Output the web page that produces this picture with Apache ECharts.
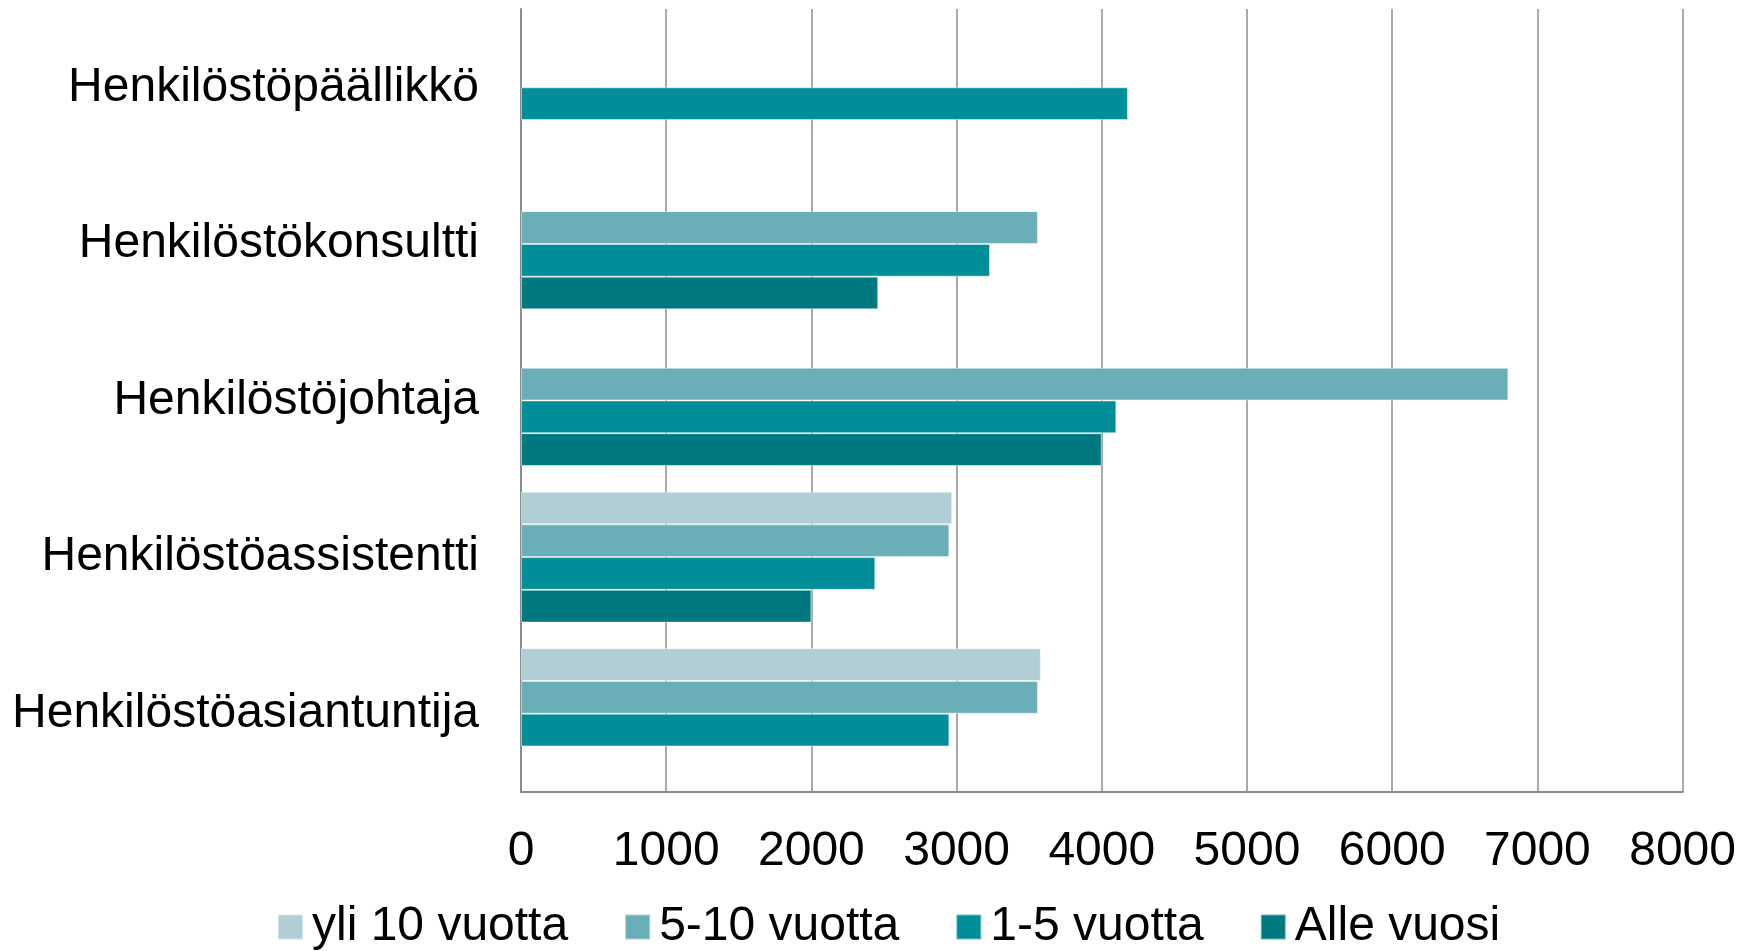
<!DOCTYPE html>
<html>
<head>
<meta charset="utf-8">
<script src="https://cdn.jsdelivr.net/npm/echarts@6/dist/echarts.min.js"></script>
<style>
  html, body { margin: 0; padding: 0; background: #fff; }
  #main { width: 1739px; height: 951px; }
</style>
</head>
<body>
<div id="main"></div>
<script>
// roles, bottom to top as the category axis draws them
var categories = ['Henkilöstöasiantuntija', 'Henkilöstöassistentti', 'Henkilöstöjohtaja', 'Henkilöstökonsultti', 'Henkilöstöpäällikkö'];
var yli10 = [3580, 2970, null, null, null];
var v5to10 = [3560, 2950, 6800, 3560, null];
var v1to5 = [2950, 2440, 4100, 3230, 4180];
var alleVuosi = [null, 2000, 4000, 2460, null];
var xTicks = [0, 8000, 1000]; // min, max, step

var chart = echarts.init(document.getElementById('main'));

var font = 'Liberation Sans, Arial, sans-serif';
var gray = '#8c8c8c';

function bar(name, data, color) {
  return {
    name: name,
    type: 'bar',
    data: data,
    barGap: '0%',
    barCategoryGap: '16.4%',
    itemStyle: { color: color, borderColor: 'rgba(255,255,255,0.45)', borderWidth: 1 },
    emphasis: { disabled: true }
  };
}

var option = {
  animation: false,
  textStyle: { fontFamily: font },
  grid: { left: 521, right: 55, top: 9, bottom: 159, containLabel: false },
  legend: {
    left: 272,
    top: 898,
    itemWidth: 25,
    itemHeight: 25,
    itemGap: 56,
    icon: 'rect',
    data: ['yli 10 vuotta', '5-10 vuotta', '1-5 vuotta', 'Alle vuosi'],
    textStyle: { fontSize: 48, color: '#000', fontFamily: font, padding: [0, 0, 0, 4] }
  },
  xAxis: {
    type: 'value',
    min: xTicks[0],
    max: xTicks[1],
    interval: xTicks[2],
    axisLine: { show: true, lineStyle: { color: gray, width: 2 } },
    axisTick: { show: false },
    splitLine: { show: true, lineStyle: { color: gray, width: 1.5 } },
    axisLabel: { fontSize: 48, color: '#000', margin: 36, fontFamily: font, formatter: function (v) { return String(v); } }
  },
  yAxis: {
    type: 'category',
    data: categories,
    axisLine: { show: true, lineStyle: { color: gray, width: 2 } },
    axisTick: { show: false },
    axisLabel: { fontSize: 48, color: '#000', margin: 42, fontFamily: font }
  },
  // first series sits at the top of each group
  series: [
    bar('yli 10 vuotta', yli10, '#b0ced3'),
    bar('5-10 vuotta', v5to10, '#6aaeb7'),
    bar('1-5 vuotta', v1to5, '#008f99'),
    bar('Alle vuosi', alleVuosi, '#007880')
  ]
};

chart.setOption(option);
</script>
</body>
</html>
